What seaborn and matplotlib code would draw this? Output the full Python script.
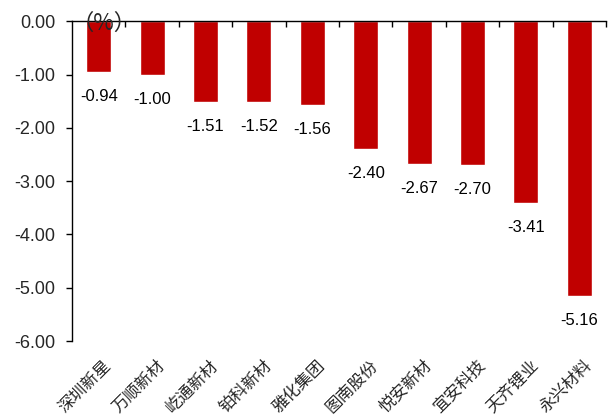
import matplotlib
matplotlib.use("Agg")
import matplotlib.pyplot as plt
import seaborn as sns
import pandas as pd

categories = ["深圳新星", "万顺新材", "屹通新材", "铂科新材", "雅化集团",
              "图南股份", "悦安新材", "宜安科技", "天齐锂业", "永兴材料"]
values = [-0.94, -1.00, -1.51, -1.52, -1.56, -2.40, -2.67, -2.70, -3.41, -5.16]
yticks = [0, -1, -2, -3, -4, -5, -6]

sns.set_theme(style="white")
plt.rcParams['font.family'] = ['Liberation Sans', 'Noto Sans CJK SC', 'DejaVu Sans']

df = pd.DataFrame({"name": categories, "value": values})

fig = plt.figure(figsize=(6.12, 4.19), dpi=100)
ax = fig.add_axes([72 / 612, 1 - 341 / 419, 534 / 612, 319.5 / 419])
sns.barplot(data=df, x="name", y="value", color="#C00000", saturation=1,
            width=0.47, ax=ax)

ax.set_ylim(-6, 0)
ax.set_xlim(-0.5, len(categories) - 0.5)
ax.set_yticks(yticks)
ax.set_yticklabels([f"{v:.2f}" for v in yticks], fontsize=13)
ax.set_xlabel("")
ax.set_ylabel("")

for s in ["right", "bottom"]:
    ax.spines[s].set_visible(False)
for s in ["left", "top"]:
    ax.spines[s].set_color("black")
    ax.spines[s].set_linewidth(1.0)

ax.tick_params(axis="y", direction="out", length=4, width=1, color="black", left=True, pad=8)
ax.tick_params(axis="x", which="both", bottom=False, top=False, labelbottom=False)
ax.set_xticks([i + 0.5 for i in range(len(categories))], minor=True)
ax.tick_params(axis="x", which="minor", top=True, direction="in", length=4, width=1, color="black")

for i, v in enumerate(values):
    ax.text(i, v - 0.32, f"{v:.2f}", ha="center", va="top", fontsize=12, color="black")

for i, c in enumerate(categories):
    ax.text(i + 0.08, -6.3, c, rotation=45, ha="right", va="top", fontsize=12,
            family=['Noto Sans CJK SC', 'DejaVu Sans'], rotation_mode="anchor",
            fontweight="light")

ax.text(0.1, -0.03, "（%）", ha="center", va="center", fontsize=16,
        family=['Noto Sans CJK SC', 'DejaVu Sans'])

fig.savefig("out.png", dpi=100)
